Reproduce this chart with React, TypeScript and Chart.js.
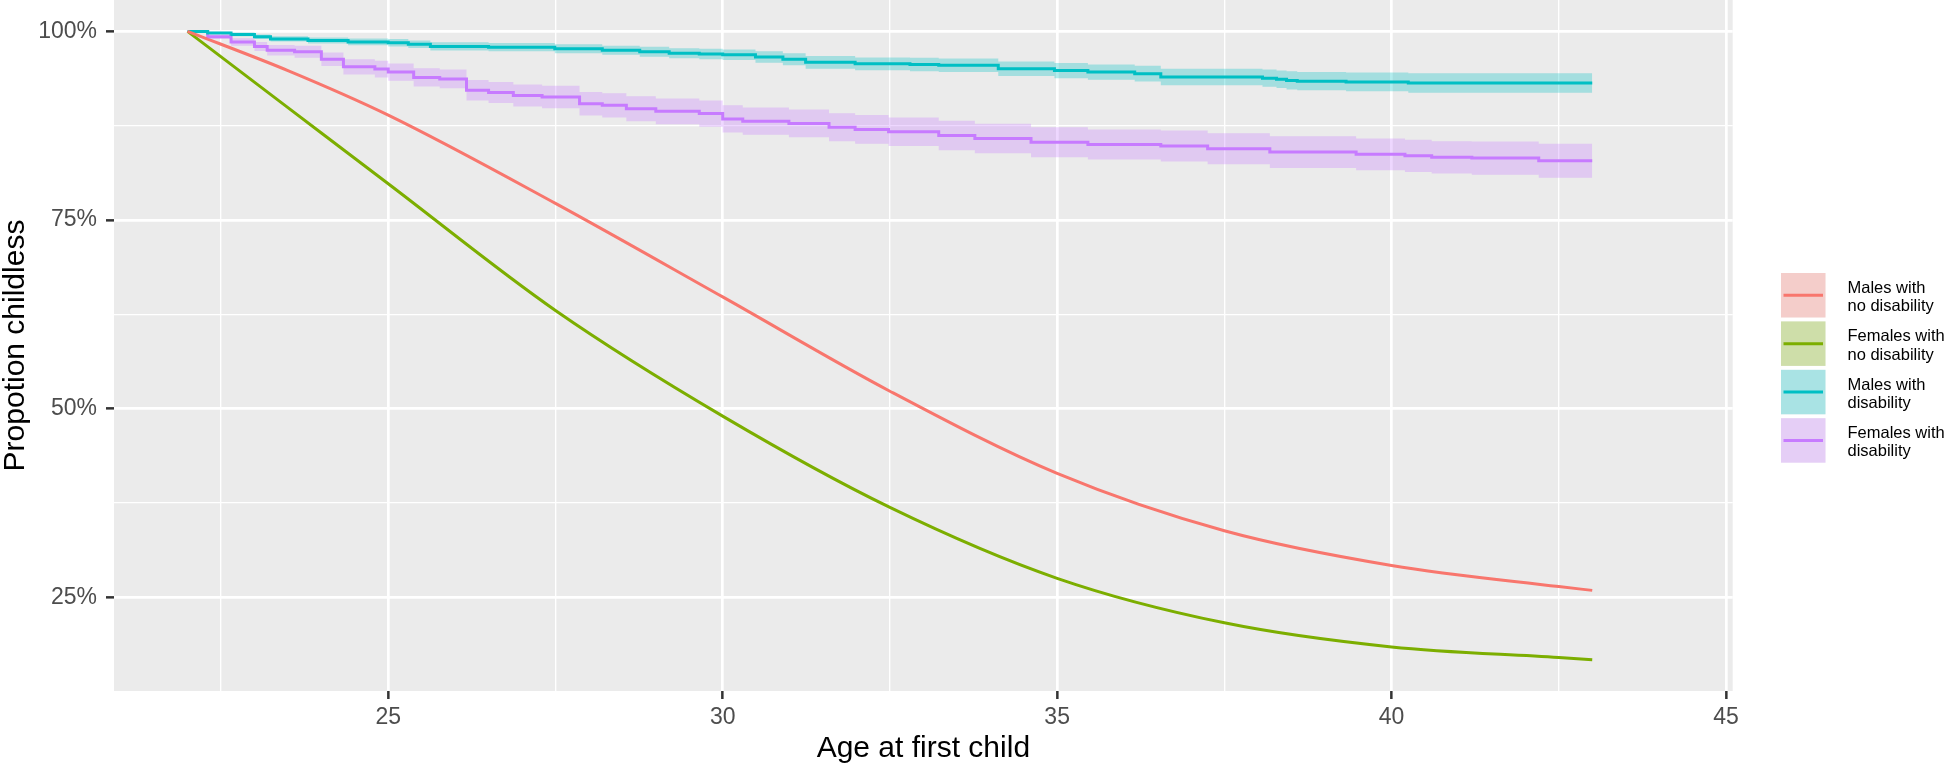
import React, { useEffect, useRef } from 'react';
import { Chart, registerables } from 'chart.js';

Chart.register(...registerables);

// ---- Data ----
const redAges = [22, 23.5, 25, 27.5, 30, 32.5, 35, 37.5, 40, 42.5, 43];
const redValues = [100, 94.8, 88.9, 77.2, 64.8, 52.3, 41.4, 33.8, 29.2, 26.4, 25.9];

const greenAges = [22, 23.5, 25, 27.5, 30, 32.5, 35, 37.5, 40, 42.5, 43];
const greenValues = [100, 89.9, 79.8, 63.0, 49.0, 36.9, 27.5, 21.6, 18.4, 17.0, 16.7];

const cyanAges = [22.0, 22.3, 22.65, 23.0, 23.24, 23.8, 24.4, 25.0, 25.3, 25.63, 26.5, 27.49, 28.2, 28.76, 29.2, 29.65, 30.0, 30.49, 30.9, 31.24, 31.98, 32.8, 33.23, 34.12, 34.96, 35.46, 36.16, 36.55, 38.07, 38.28, 38.43, 38.59, 39.32, 40.25, 43.0];
const cyanValues = [100, 99.8, 99.6, 99.3, 99.0, 98.8, 98.6, 98.5, 98.3, 98.0, 97.9, 97.7, 97.5, 97.3, 97.1, 97.0, 96.9, 96.6, 96.3, 95.9, 95.7, 95.6, 95.5, 95.05, 94.8, 94.6, 94.4, 93.95, 93.8, 93.65, 93.5, 93.4, 93.3, 93.15, 93.15];
const cyanUpper = [100, 99.95, 99.85, 99.6, 99.35, 99.2, 99.05, 99.0, 98.8, 98.55, 98.45, 98.3, 98.1, 97.95, 97.75, 97.7, 97.6, 97.35, 97.1, 96.75, 96.55, 96.5, 96.4, 96.0, 95.8, 95.6, 95.45, 95.05, 94.95, 94.8, 94.7, 94.6, 94.55, 94.45, 94.45];
const cyanLower = [100, 99.65, 99.35, 99.0, 98.65, 98.4, 98.15, 98.0, 97.8, 97.45, 97.35, 97.1, 96.9, 96.65, 96.45, 96.3, 96.2, 95.85, 95.5, 95.05, 94.85, 94.7, 94.6, 94.1, 93.8, 93.6, 93.35, 92.85, 92.65, 92.5, 92.3, 92.2, 92.05, 91.85, 91.85];

const purpleAges = [22.0, 22.3, 22.65, 23.0, 23.19, 23.6, 24.0, 24.33, 24.8, 25.0, 25.38, 25.77, 26.17, 26.5, 26.87, 27.3, 27.86, 28.2, 28.56, 29.0, 29.65, 30.0, 30.3, 30.99, 31.59, 31.98, 32.48, 33.23, 33.77, 34.61, 35.46, 36.55, 37.25, 38.18, 39.47, 40.2, 40.6, 41.2, 42.2, 43.0];
const purpleValues = [100, 99.3, 98.6, 98.0, 97.5, 97.3, 96.3, 95.3, 95.0, 94.6, 93.9, 93.7, 92.2, 91.9, 91.5, 91.3, 90.4, 90.2, 89.75, 89.4, 89.1, 88.4, 88.1, 87.8, 87.3, 87.0, 86.7, 86.2, 85.8, 85.3, 85.0, 84.8, 84.45, 84.0, 83.7, 83.5, 83.3, 83.2, 82.85, 82.85];
const purpleUpper = [100, 99.6, 99.1, 98.6, 98.2, 98.1, 97.2, 96.3, 96.1, 95.75, 95.1, 94.95, 93.55, 93.3, 92.95, 92.8, 91.95, 91.8, 91.4, 91.1, 90.85, 90.2, 89.9, 89.65, 89.15, 88.9, 88.6, 88.15, 87.75, 87.3, 87.0, 86.85, 86.5, 86.1, 85.8, 85.65, 85.45, 85.4, 85.1, 85.1];
const purpleLower = [100, 99.0, 98.1, 97.4, 96.8, 96.5, 95.4, 94.3, 93.9, 93.45, 92.7, 92.45, 90.85, 90.5, 90.05, 89.8, 88.85, 88.6, 88.1, 87.7, 87.35, 86.6, 86.3, 85.95, 85.45, 85.1, 84.8, 84.25, 83.85, 83.3, 83.0, 82.75, 82.4, 81.9, 81.6, 81.35, 81.15, 81.0, 80.6, 80.6];

const xMajorTicks = [25, 30, 35, 40, 45];
const xGridValues = [22.5, 25, 27.5, 30, 32.5, 35, 37.5, 40, 42.5, 45];
const yMajorTicks = [25, 50, 75, 100];
const yGridValues = [25, 37.5, 50, 62.5, 75, 87.5, 100];

const seriesLabels = [
  ['Males with', 'no disability'],
  ['Females with', 'no disability'],
  ['Males with', 'disability'],
  ['Females with', 'disability'],
];
const seriesColors = ['#F8766D', '#7CAE00', '#00BFC4', '#C77CFF'];
const ribbonColors = ['rgba(248,118,109,0.3)', 'rgba(124,174,0,0.3)', 'rgba(0,191,196,0.3)', 'rgba(199,124,255,0.3)'];

const FONT = "'Liberation Sans', Arial, Helvetica, sans-serif";

const toXY = (xs: number[], ys: number[]) => xs.map((x, i) => ({ x, y: ys[i] }));

const backgroundPlugin = {
  id: 'ggBackground',
  beforeDraw(chart: any) {
    const { ctx, chartArea, width, height } = chart;
    ctx.save();
    ctx.fillStyle = '#FFFFFF';
    ctx.fillRect(0, 0, width, height);
    ctx.fillStyle = '#EBEBEB';
    ctx.fillRect(chartArea.left, chartArea.top, chartArea.right - chartArea.left, chartArea.bottom - chartArea.top);
    ctx.restore();
  },
};

const legendPlugin = {
  id: 'ggLegend',
  afterDraw(chart: any) {
    const { ctx } = chart;
    const keyX = 1781;
    const keySize = 44.5;
    const top0 = 273;
    const pitch = 48.4;
    ctx.save();
    seriesLabels.forEach((lines, i) => {
      const y = top0 + i * pitch;
      ctx.fillStyle = '#F2F2F2';
      ctx.fillRect(keyX, y, keySize, keySize);
      ctx.fillStyle = ribbonColors[i];
      ctx.fillRect(keyX, y, keySize, keySize);
      ctx.strokeStyle = seriesColors[i];
      ctx.lineWidth = 3;
      ctx.beginPath();
      ctx.moveTo(keyX + 2.5, y + keySize / 2);
      ctx.lineTo(keyX + keySize - 2.5, y + keySize / 2);
      ctx.stroke();
      ctx.fillStyle = '#000000';
      ctx.font = `16.5px ${FONT}`;
      ctx.textAlign = 'left';
      ctx.textBaseline = 'alphabetic';
      const cy = y + keySize / 2;
      ctx.fillText(lines[0], 1847.5, cy - 2.5);
      ctx.fillText(lines[1], 1847.5, cy + 16);
    });
    ctx.restore();
  },
};

export default function App() {
  const ref = useRef<HTMLCanvasElement>(null);

  useEffect(() => {
    const canvas = ref.current;
    if (!canvas) return;
    const stepLine = (data: any[], color: string) => ({
      data,
      borderColor: color,
      borderWidth: 3,
      pointRadius: 0,
      fill: false,
      stepped: true,
    });
    const chart = new Chart(canvas, {
      type: 'line',
      data: {
        datasets: [
          { data: toXY(cyanAges, cyanUpper), borderWidth: 0, borderColor: 'rgba(0,0,0,0)', pointRadius: 0, fill: false, stepped: true },
          { data: toXY(cyanAges, cyanLower), borderWidth: 0, borderColor: 'rgba(0,0,0,0)', pointRadius: 0, fill: '-1', backgroundColor: ribbonColors[2], stepped: true },
          { data: toXY(purpleAges, purpleUpper), borderWidth: 0, borderColor: 'rgba(0,0,0,0)', pointRadius: 0, fill: false, stepped: true },
          { data: toXY(purpleAges, purpleLower), borderWidth: 0, borderColor: 'rgba(0,0,0,0)', pointRadius: 0, fill: '-1', backgroundColor: ribbonColors[3], stepped: true },
          { data: toXY(redAges, redValues), borderColor: seriesColors[0], borderWidth: 3, pointRadius: 0, fill: false, cubicInterpolationMode: 'monotone' },
          { data: toXY(greenAges, greenValues), borderColor: seriesColors[1], borderWidth: 3, pointRadius: 0, fill: false, cubicInterpolationMode: 'monotone' },
          stepLine(toXY(cyanAges, cyanValues), seriesColors[2]),
          stepLine(toXY(purpleAges, purpleValues), seriesColors[3]),
        ] as any,
      },
      options: {
        animation: false,
        responsive: false,
        devicePixelRatio: 1,
        events: [],
        layout: { padding: { left: 0, top: 0, right: 212.3, bottom: 0 } },
        plugins: {
          legend: { display: false },
          tooltip: { enabled: false },
        },
        scales: {
          x: {
            type: 'linear',
            position: 'bottom',
            min: 20.9,
            max: 45.1,
            afterBuildTicks: (scale: any) => {
              scale.ticks = xGridValues.map((v) => ({ value: v }));
            },
            afterFit: (scale: any) => {
              scale.height = 74;
              scale.paddingLeft = 0;
              scale.paddingRight = 0;
            },
            border: { display: false },
            grid: {
              color: '#FFFFFF',
              lineWidth: (ctx: any) => (xMajorTicks.includes(ctx.tick?.value) ? 2.7 : 1.35),
              tickColor: (ctx: any) => (xMajorTicks.includes(ctx.tick?.value) ? '#333333' : 'rgba(0,0,0,0)'),
              tickWidth: 2.5,
              tickLength: 8,
              drawTicks: true,
            },
            ticks: {
              autoSkip: false,
              maxRotation: 0,
              padding: 5,
              color: '#4D4D4D',
              font: { family: FONT, size: 23 },
              callback: (v: any) => (xMajorTicks.includes(Number(v)) ? String(v) : ''),
            },
            title: {
              display: true,
              text: 'Age at first child',
              color: '#000000',
              font: { family: FONT, size: 30, lineHeight: 1 },
              padding: { top: 0, bottom: 1.5 },
            },
          },
          y: {
            type: 'linear',
            position: 'left',
            min: 12.56,
            max: 104.16,
            afterBuildTicks: (scale: any) => {
              scale.ticks = yGridValues.map((v) => ({ value: v }));
            },
            afterFit: (scale: any) => {
              scale.width = 114;
              scale.paddingTop = 0;
              scale.paddingBottom = 0;
            },
            border: { display: false },
            grid: {
              color: '#FFFFFF',
              lineWidth: (ctx: any) => (yMajorTicks.includes(ctx.tick?.value) ? 2.7 : 1.35),
              tickColor: (ctx: any) => (yMajorTicks.includes(ctx.tick?.value) ? '#333333' : 'rgba(0,0,0,0)'),
              tickWidth: 2.5,
              tickLength: 8,
              drawTicks: true,
            },
            ticks: {
              autoSkip: false,
              padding: 9,
              color: '#4D4D4D',
              font: { family: FONT, size: 23 },
              callback: (v: any) => (yMajorTicks.includes(Number(v)) ? `${v}%` : ''),
            },
            title: {
              display: true,
              text: 'Propotion childless',
              color: '#000000',
              font: { family: FONT, size: 30, lineHeight: 1 },
              padding: { top: 0.5, bottom: 0 },
            },
          },
        },
      } as any,
      plugins: [backgroundPlugin, legendPlugin],
    });
    return () => chart.destroy();
  }, []);

  return (
    <div style={{ position: 'absolute', left: 0, top: 0, width: 1945, height: 765, background: '#FFFFFF' }}>
      <canvas ref={ref} width={1945} height={765} style={{ display: 'block', width: 1945, height: 765 }} />
    </div>
  );
}
